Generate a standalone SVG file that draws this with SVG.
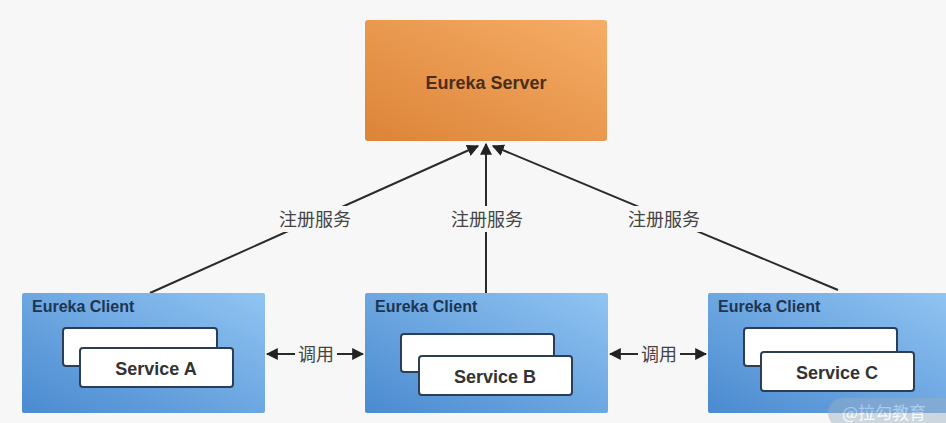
<svg xmlns="http://www.w3.org/2000/svg" width="946" height="423" viewBox="0 0 946 423">
<defs>
<linearGradient id="gOrange" x1="0" y1="1" x2="1" y2="0">
<stop offset="0" stop-color="#dc8438"/>
<stop offset="1" stop-color="#f6ad66"/>
</linearGradient>
<linearGradient id="gBlue" x1="0" y1="1" x2="1" y2="0">
<stop offset="0" stop-color="#4a8ad0"/>
<stop offset="1" stop-color="#90c4f2"/>
</linearGradient>
<marker id="ah" viewBox="0 0 10 10" refX="9" refY="5" markerWidth="12" markerHeight="12" markerUnits="userSpaceOnUse" orient="auto">
<path d="M0,0 L10,5 L0,10 z" fill="#222"/>
</marker>
<marker id="ahs" viewBox="0 0 10 10" refX="1" refY="5" markerWidth="12" markerHeight="12" markerUnits="userSpaceOnUse" orient="auto">
<path d="M10,0 L0,5 L10,10 z" fill="#222"/>
</marker>
</defs>
<style>
.client{fill:url(#gBlue);}
.title{font-family:"Liberation Sans",Arial,sans-serif;font-weight:bold;font-size:16px;fill:#1d3552;}
.svc{fill:#fff;stroke:#2c3e55;stroke-width:2;}
.svct{font-family:"Liberation Sans",Arial,sans-serif;font-weight:bold;font-size:18px;fill:#333;text-anchor:middle;}
.line{stroke:#2a2a2a;stroke-width:2;fill:none;}
.lbl{font-family:"Liberation Sans","Noto Sans CJK SC",sans-serif;font-size:18px;fill:#444;text-anchor:middle;}
.lblbg{fill:#f7f7f7;}
</style>
<rect width="946" height="423" fill="#f7f7f7"/>
<g id="connectors">
<line class="line" x1="150" y1="293" x2="478" y2="146" marker-end="url(#ah)"/>
<line class="line" x1="486" y1="293" x2="486" y2="144" marker-end="url(#ah)"/>
<line class="line" x1="838" y1="290" x2="493" y2="146" marker-end="url(#ah)"/>
<rect class="lblbg" x="272" y="206" width="88" height="26"/>
<rect class="lblbg" x="443" y="206" width="88" height="26"/>
<rect class="lblbg" x="620" y="206" width="88" height="26"/>
<text class="lbl" x="315" y="226">注册服务</text>
<text class="lbl" x="487" y="226">注册服务</text>
<text class="lbl" x="664" y="226">注册服务</text>
<line class="line" x1="267" y1="354" x2="363" y2="354" marker-start="url(#ahs)" marker-end="url(#ah)"/>
<line class="line" x1="610" y1="354" x2="706" y2="354" marker-start="url(#ahs)" marker-end="url(#ah)"/>
<rect class="lblbg" x="295" y="343" width="42" height="22"/>
<rect class="lblbg" x="638" y="343" width="42" height="22"/>
<text class="lbl" x="316" y="361">调用</text>
<text class="lbl" x="659" y="361">调用</text>
</g>
<g id="server">
<rect x="365" y="20" width="242" height="121" rx="3" fill="url(#gOrange)"/>
<text x="486" y="89" text-anchor="middle" style="font-family:'Liberation Sans',Arial,sans-serif;font-weight:bold;font-size:18px;fill:#4a2e1a;">Eureka Server</text>
</g>
<g id="clientA">
<rect class="client" x="22" y="293" width="243" height="120" rx="2"/>
<text class="title" x="32" y="312">Eureka Client</text>
<rect class="svc" x="63" y="328" width="154" height="38" rx="3"/>
<rect class="svc" x="80" y="348" width="153" height="39" rx="3"/>
<text class="svct" x="156" y="375">Service A</text>
</g>
<g id="clientB">
<rect class="client" x="365" y="293" width="243" height="120" rx="2"/>
<text class="title" x="375" y="312">Eureka Client</text>
<rect class="svc" x="401" y="334" width="153" height="38" rx="3"/>
<rect class="svc" x="419" y="356" width="153" height="39" rx="3"/>
<text class="svct" x="495" y="383">Service B</text>
</g>
<g id="clientC">
<rect class="client" x="708" y="293" width="240" height="120" rx="2"/>
<text class="title" x="718" y="312">Eureka Client</text>
<rect class="svc" x="744" y="328" width="153" height="38" rx="3"/>
<rect class="svc" x="761" y="352" width="153" height="39" rx="3"/>
<text class="svct" x="837" y="379">Service C</text>
</g>
<g id="watermark" opacity="0.45">
<rect x="828" y="398" width="140" height="30" rx="15" fill="#9ab0c4"/>
<text x="842" y="419" style="font-family:'Noto Sans CJK SC',sans-serif;font-size:17px;fill:#ffffff;">@拉勾教育</text>
</g>
</svg>
